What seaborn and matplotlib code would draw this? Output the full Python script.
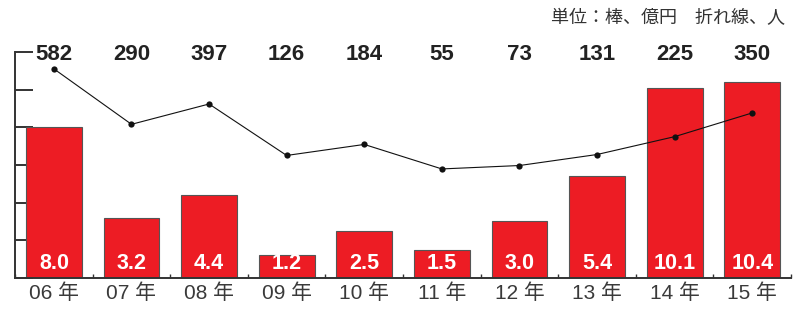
import numpy as np
import pandas as pd
import matplotlib
matplotlib.use("Agg")
import matplotlib.pyplot as plt
import seaborn as sns

# 年ごとのデータ
years = ["06 年", "07 年", "08 年", "09 年", "10 年", "11 年", "12 年", "13 年", "14 年", "15 年"]
amounts = [8.0, 3.2, 4.4, 1.2, 2.5, 1.5, 3.0, 5.4, 10.1, 10.4]   # 棒: 億円
people = [582, 290, 397, 126, 184, 55, 73, 131, 225, 350]         # 折れ線: 人

sns.set_style("white")
plt.rcParams["font.family"] = ["Liberation Sans", "Noto Sans CJK JP"]

df = pd.DataFrame({"year": years, "amount": amounts, "people": people})

fig = plt.figure(figsize=(7.95, 3.13), dpi=100)
ax = fig.add_axes([0.019, 0.112, 0.976, 0.722])

sns.barplot(data=df, x="year", y="amount", color="#ED1C24", saturation=1,
            width=0.72, edgecolor="#555555", linewidth=0.8, ax=ax)

ax.set_ylim(0, 12)
ax.set_xlim(-0.49, 9.47)
ax.set_yticks(np.arange(0, 13, 2))
ax.set_yticklabels([])
ax.set_xlabel("")
ax.set_ylabel("")
for s in ["top", "right"]:
    ax.spines[s].set_visible(False)
for s in ["left", "bottom"]:
    ax.spines[s].set_color("#333333")
    ax.spines[s].set_linewidth(1.4)
ax.tick_params(axis="y", direction="in", length=13, width=1.4, color="#333333", left=True)
ax.tick_params(axis="x", length=0, labelsize=15, labelcolor="#3a3a3a", pad=4)
ax.set_xticks(np.arange(-0.5, 9.6, 1), minor=True)
ax.tick_params(axis="x", which="minor", direction="in", length=3, width=1.0,
               color="#333333", bottom=True)

# 棒の値
for i, v in enumerate(amounts):
    ax.text(i, 0.45, f"{v:.1f}", ha="center", va="baseline", color="white",
            fontsize=15.5, fontweight="bold")

# 人数ラベル（上部）
for i, v in enumerate(people):
    ax.text(i, 0.99, str(v), transform=ax.get_xaxis_transform(), ha="center",
            va="center", fontsize=16, fontweight="bold", color="#222222")

# 折れ線
ax2 = ax.twinx()
sns.lineplot(x=np.arange(len(people)), y=people, ax=ax2, color="#111111",
             linewidth=0.8, marker="o", markersize=4.5, markeredgewidth=0)
ax2.set_ylim(-519, 671)
ax2.set_axis_off()

fig.text(0.987, 0.942, "単位：棒、億円　折れ線、人", ha="right", va="center",
         fontsize=13, color="#333333",
         family=["Noto Sans CJK JP", "DejaVu Sans"])

fig.savefig("out.png", dpi=100)
